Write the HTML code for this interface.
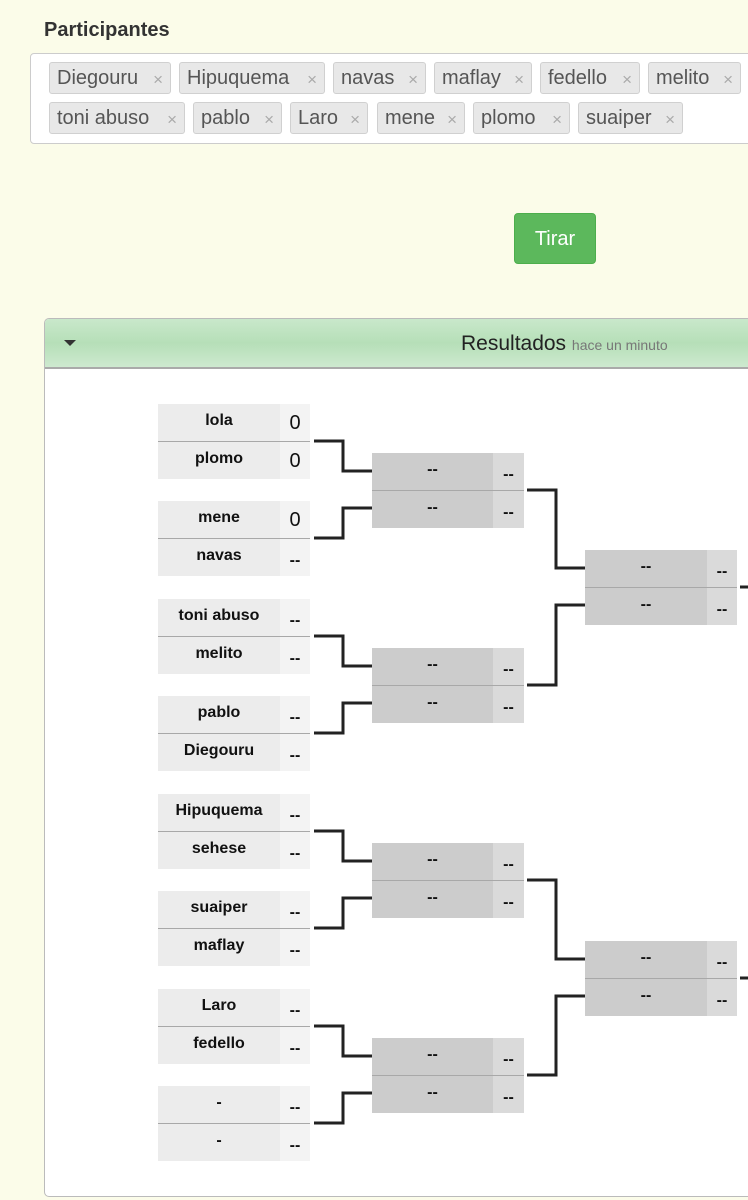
<!DOCTYPE html>
<html><head><meta charset="utf-8"><style>
*{box-sizing:border-box;margin:0;padding:0}
body{width:748px;height:1200px;background:#fbfce9;font-family:"Liberation Sans",Arial,sans-serif;position:relative;overflow:hidden}
.a{position:absolute}
.tag{position:absolute;height:32px;background:#e8e8e8;border:1px solid #d0d0d0;border-radius:3px;font-size:20px;color:#555;line-height:31px;padding-left:7px;white-space:nowrap}
.tag i{font-style:normal;color:#aaa;font-size:17px;position:absolute;right:7px;top:1px}
.m{position:absolute;width:152px;height:75px}
.r{position:absolute;left:0;width:152px;height:37px}
.n{position:absolute;left:0;top:0;height:37px;font-weight:bold;font-size:16px;text-align:center;line-height:33px;color:#111}
.s{position:absolute;top:0;height:37px;text-align:center;color:#111}
.dv{position:absolute;left:0;top:37px;width:152px;height:1px;background:#a8a8a8}
</style></head><body>
<div class="a" style="left:44px;top:19px;font-size:20px;font-weight:bold;color:#333">Participantes</div>
<div class="a" style="left:30px;top:53px;width:730px;height:91px;background:#fff;border:1px solid #ccc;border-radius:4px"></div>
<div class="tag" style="left:49px;top:62px;width:122px">Diegouru<i>×</i></div>
<div class="tag" style="left:179px;top:62px;width:146px">Hipuquema<i>×</i></div>
<div class="tag" style="left:333px;top:62px;width:93px">navas<i>×</i></div>
<div class="tag" style="left:434px;top:62px;width:98px">maflay<i>×</i></div>
<div class="tag" style="left:540px;top:62px;width:100px">fedello<i>×</i></div>
<div class="tag" style="left:648px;top:62px;width:93px">melito<i>×</i></div>
<div class="tag" style="left:49px;top:102px;width:136px">toni abuso<i>×</i></div>
<div class="tag" style="left:193px;top:102px;width:89px">pablo<i>×</i></div>
<div class="tag" style="left:290px;top:102px;width:78px">Laro<i>×</i></div>
<div class="tag" style="left:377px;top:102px;width:88px">mene<i>×</i></div>
<div class="tag" style="left:473px;top:102px;width:97px">plomo<i>×</i></div>
<div class="tag" style="left:578px;top:102px;width:105px">suaiper<i>×</i></div>
<div class="a" style="left:514px;top:213px;width:82px;height:51px;background:#5cb85c;border:1px solid #4cae4c;border-radius:4px;color:#fff;font-size:20px;text-align:center;line-height:51px">Tirar</div>
<div class="a" style="left:44px;top:318px;width:720px;height:879px;background:#fff;border:1px solid #bbb;border-radius:5px;overflow:hidden">
 <div class="a" style="left:0;top:0;width:720px;height:50px;background:linear-gradient(#c9e8cb,#b6dfb8 50%,#cde9cf);border-bottom:2px solid #aaa"></div>
</div>
<div class="a" style="left:64px;top:340px;width:0;height:0;border-left:6px solid transparent;border-right:6px solid transparent;border-top:6px solid #333"></div>
<div class="a" style="left:461px;top:332px;font-size:21px;color:#222;white-space:nowrap">Resultados <span style="font-size:14px;color:#777">hace un minuto</span></div>

<div id="b"></div>
<svg class="a" style="left:0;top:0" width="748" height="1200"><path id="p" d="" fill="none" stroke="#222" stroke-width="3"/></svg>
<script>
var r1=[["lola","0"],["plomo","0"],["mene","0"],["navas","--"],["toni abuso","--"],["melito","--"],["pablo","--"],["Diegouru","--"],["Hipuquema","--"],["sehese","--"],["suaiper","--"],["maflay","--"],["Laro","--"],["fedello","--"],["-","--"],["-","--"]];
var T1=[404,501,599,696,794,891,989,1086],T2=[453,648,843,1038],T3=[550,941];
var h="";
function box(x,t,a,b,nc,sc,nw){
 h+='<div class="m" style="left:'+x+'px;top:'+t+'px">';
 [a,b].forEach(function(v,i){
  var big=v[1]=="0";
  h+='<div class="r" style="top:'+(i?38:0)+'px"><div class="n" style="width:'+nw+'px;background:'+nc+'">'+v[0]+'</div><div class="s" style="left:'+nw+'px;width:'+(152-nw)+'px;background:'+sc+';'+(big?'font-size:20px;line-height:38px':'font-weight:bold;font-size:16px;line-height:43px')+'">'+v[1]+'</div></div>';
 });
 h+='<div class="dv"></div></div>';
}
T1.forEach(function(t,k){box(158,t,r1[2*k],r1[2*k+1],"#ececec","#f3f3f3",122)});
T2.forEach(function(t){box(372,t,["--","--"],["--","--"],"#cccccc","#dadada",121)});
T3.forEach(function(t){box(585,t,["--","--"],["--","--"],"#cccccc","#dadada",122)});
document.getElementById("b").innerHTML=h;
var d="";
T2.forEach(function(t,j){var a=T1[2*j]+37,b=T1[2*j+1]+37;d+="M314 "+a+"H343V"+(t+18)+"H372M314 "+b+"H343V"+(t+55)+"H372";});
T3.forEach(function(t,j){var a=T2[2*j]+37,b=T2[2*j+1]+37;d+="M527 "+a+"H556V"+(t+18)+"H585M527 "+b+"H556V"+(t+55)+"H585M740 "+(t+37)+"H748";});
document.getElementById("p").setAttribute("d",d);
</script>
</body></html>
